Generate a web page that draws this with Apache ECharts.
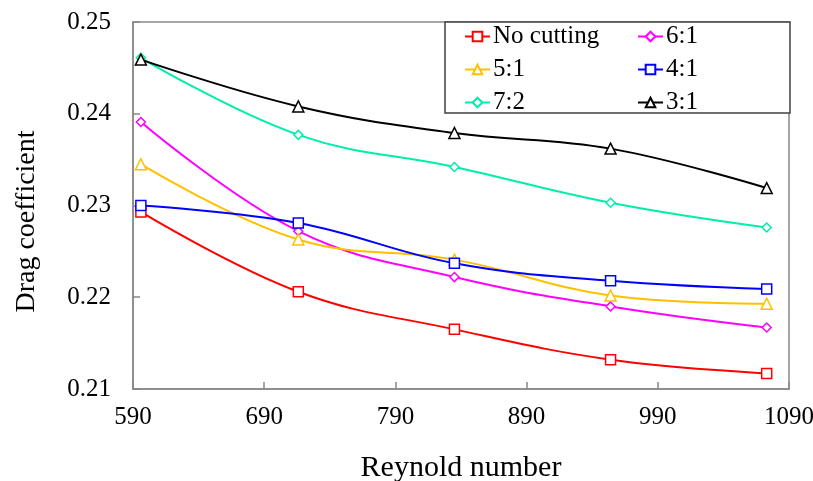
<!DOCTYPE html>
<html>
<head>
<meta charset="utf-8">
<script src="https://cdn.jsdelivr.net/npm/echarts@6/dist/echarts.min.js"></script>
<style>html,body{margin:0;padding:0;background:#fff;}#c{width:813px;height:481px;}</style>
</head>
<body>
<div id="c"></div>
<script>
const reynolds = [596, 716, 835, 954, 1073];
const noCutting = [0.2293, 0.2206, 0.2165, 0.2132, 0.2117];
const r61 = [0.2391, 0.2272, 0.2222, 0.2190, 0.2167];
const r51 = [0.2345, 0.2263, 0.2241, 0.2202, 0.2193];
const r41 = [0.2300, 0.2281, 0.2237, 0.2218, 0.2209];
const r72 = [0.2461, 0.2377, 0.2342, 0.2303, 0.2276];
const r31 = [0.2459, 0.2408, 0.2379, 0.2362, 0.2319];
const yTicks = [0.21, 0.22, 0.23, 0.24, 0.25];
const xTicks = [590, 690, 790, 890, 990, 1090];

const font = "'Liberation Serif','Times New Roman',serif";
const seriesDefs = [
  {name: 'No cutting', data: noCutting, color: '#FF0000', symbol: 'rect', size: 10},
  {name: '6:1', data: r61, color: '#FF00FF', symbol: 'diamond', size: 9},
  {name: '5:1', data: r51, color: '#FFC000', symbol: 'triangle', size: 11},
  {name: '4:1', data: r41, color: '#0000FF', symbol: 'rect', size: 10},
  {name: '7:2', data: r72, color: '#00EEAA', symbol: 'diamond', size: 9},
  {name: '3:1', data: r31, color: '#000000', symbol: 'triangle', size: 11}
];

const series = seriesDefs.map(s => ({
  name: s.name,
  type: 'line',
  smooth: 0.4,
  symbol: s.symbol,
  symbolSize: s.size,
  data: reynolds.map((x, i) => [x, s.data[i]]),
  lineStyle: {color: s.color, width: 2},
  itemStyle: {color: '#fff', borderColor: s.color, borderWidth: 1.5},
  emphasis: {disabled: true}
}));

const legendBase = {
  orient: 'vertical',
  top: 24,
  padding: 0,
  itemWidth: 25,
  itemHeight: 12,
  itemGap: 8,
  textStyle: {fontFamily: font, fontSize: 25, color: '#000', padding: [0, 0, 0, -2]},
  inactiveColor: '#000'
};

const chart = echarts.init(document.getElementById('c'));
chart.setOption({
  animation: false,
  backgroundColor: '#fff',
  grid: {left: 133, right: 24, top: 22, bottom: 92, show: true, borderColor: '#888', borderWidth: 1.5,
         containLabel: false, outerBoundsMode: 'none'},
  graphic: [{
    type: 'rect', z: 3,
    shape: {x: 445, y: 22, width: 345, height: 91},
    style: {fill: '#fff', stroke: '#404040', lineWidth: 1.5}
  }],
  legend: [
    Object.assign({}, legendBase, {left: 464, data: ['No cutting', '5:1', '7:2']}),
    Object.assign({}, legendBase, {left: 637, data: ['6:1', '4:1', '3:1']})
  ],
  xAxis: {
    type: 'value', min: xTicks[0], max: xTicks[xTicks.length - 1], interval: 100,
    name: 'Reynold number', nameLocation: 'middle', nameGap: 64,
    nameTextStyle: {fontFamily: font, fontSize: 30, color: '#000'},
    axisLine: {lineStyle: {color: '#888', width: 1.5}},
    axisTick: {inside: true, length: 7, lineStyle: {color: '#888', width: 1.5}},
    axisLabel: {fontFamily: font, fontSize: 25, color: '#000', margin: 16, formatter: v => String(v)},
    splitLine: {show: false}
  },
  yAxis: {
    type: 'value', min: yTicks[0], max: yTicks[yTicks.length - 1], interval: 0.01,
    name: 'Drag coefficient', nameLocation: 'middle', nameGap: 92,
    nameTextStyle: {fontFamily: font, fontSize: 28, color: '#000', padding: [0, 32, 0, 0]},
    axisLine: {lineStyle: {color: '#888', width: 1.5}},
    axisTick: {inside: true, length: 7, lineStyle: {color: '#888', width: 1.5}},
    axisLabel: {fontFamily: font, fontSize: 25, color: '#000', margin: 22, formatter: v => v.toFixed(2)},
    splitLine: {show: false}
  },
  series: series
});
</script>
</body>
</html>
